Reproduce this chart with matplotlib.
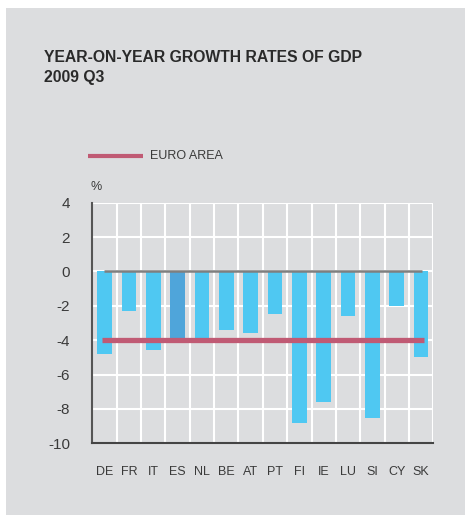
import matplotlib
matplotlib.use("Agg")
import matplotlib.pyplot as plt
from matplotlib.patches import Rectangle

# Year-on-year GDP growth, 2009 Q3 (%)
countries = ["DE", "FR", "IT", "ES", "NL", "BE", "AT", "PT", "FI", "IE", "LU", "SI", "CY", "SK"]
growth = [-4.8, -2.3, -4.6, -4.0, -3.9, -3.4, -3.6, -2.5, -8.8, -7.6, -2.6, -8.5, -2.0, -5.0]
euro_area = -4.0
highlight = "ES"
y_ticks = [4, 2, 0, -2, -4, -6, -8, -10]

BG = "#dcdddf"
BAR = "#4fc8f2"
BAR_HI = "#4fa5da"
RED = "#c05a74"
TEXT = "#3a3a3a"

plt.rcParams["font.family"] = ["Liberation Sans", "DejaVu Sans"]

fig = plt.figure(figsize=(4.65, 5.15), dpi=100)
fig.patch.set_facecolor("white")
# grey panel behind everything
fig.patches.append(Rectangle((6 / 465, 0), 1 - 6 / 465, 1 - 8 / 515,
                             transform=fig.transFigure, facecolor=BG,
                             edgecolor="none", zorder=-10))

ax = fig.add_axes([92.3 / 465, 1 - 443.3 / 515, (433.3 - 92.3) / 465, (443.3 - 202.7) / 515])
ax.set_facecolor(BG)

x = list(range(len(countries)))
colors = [BAR_HI if c == highlight else BAR for c in countries]
ax.bar(x, growth, width=0.6, color=colors, zorder=3)

# zero line and euro-area average
ax.plot([0, 13.05], [0, 0], color="#7f7f7f", lw=1.8, zorder=4, solid_capstyle="butt")
ax.plot([-0.12, 13.12], [euro_area, euro_area], color=RED, lw=3.8, zorder=5,
        solid_capstyle="butt")

ax.set_xlim(-0.5, len(countries) - 0.5)
ax.set_ylim(min(y_ticks), max(y_ticks))
ax.set_yticks(y_ticks)
ax.set_yticklabels([str(v) for v in y_ticks], fontsize=11, color=TEXT)
ax.set_xticks(x)
ax.set_xticklabels(countries, fontsize=9, color=TEXT)
ax.tick_params(axis="both", length=0)
ax.tick_params(axis="x", pad=16.5)
ax.tick_params(axis="y", pad=16)

# white grid: horizontal at each tick, vertical between categories
for v in y_ticks[:-1]:
    ax.axhline(v, color="white", lw=1.5, zorder=1)
for b in range(1, len(countries) + 1):
    ax.axvline(b - 0.5, color="white", lw=1.5, zorder=1)

for s in ["top", "right"]:
    ax.spines[s].set_visible(False)
ax.spines["left"].set_color("#555555")
ax.spines["left"].set_linewidth(1.5)
ax.spines["bottom"].set_color("#444444")
ax.spines["bottom"].set_linewidth(1.5)

# title
fig.text(44 / 465, 1 - 62 / 515, "YEAR-ON-YEAR GROWTH RATES OF GDP", fontsize=11.3,
         fontweight="bold", color="#2a2a2a", ha="left", va="baseline")
fig.text(44 / 465, 1 - 82 / 515, "2009 Q3", fontsize=11.3,
         fontweight="bold", color="#2a2a2a", ha="left", va="baseline")

# legend
fig.add_artist(plt.Line2D([87.5 / 465, 142.7 / 465], [1 - 155.7 / 515, 1 - 155.7 / 515],
                          transform=fig.transFigure, color=RED, lw=3,
                          solid_capstyle="butt"))
fig.text(150 / 465, 1 - 156 / 515, "EURO AREA", fontsize=9, color=TEXT,
         ha="left", va="center")
fig.text(90 / 465, 1 - 187 / 515, "%", fontsize=9, color=TEXT, ha="left", va="center")

fig.savefig("out.png", dpi=100, facecolor=fig.get_facecolor())
